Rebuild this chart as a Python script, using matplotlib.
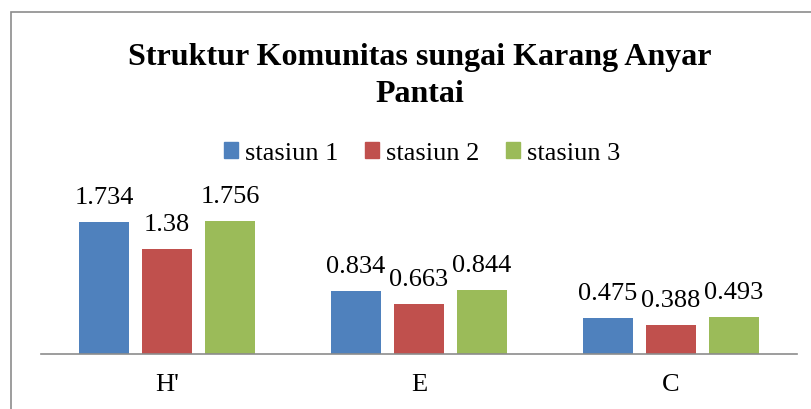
import matplotlib
matplotlib.use("Agg")
import matplotlib.pyplot as plt
import numpy as np
from matplotlib.patches import Rectangle

categories = ["H'", "E", "C"]
series_names = ["stasiun 1", "stasiun 2", "stasiun 3"]
stasiun1 = [1.734, 0.834, 0.475]
stasiun2 = [1.38, 0.663, 0.388]
stasiun3 = [1.756, 0.844, 0.493]
labels1 = ["1.734", "0.834", "0.475"]
labels2 = ["1.38", "0.663", "0.388"]
labels3 = ["1.756", "0.844", "0.493"]
colors = ["#4f81bd", "#c0504d", "#9bbb59"]

plt.rcParams["font.family"] = ["Liberation Serif", "DejaVu Serif"]

W, H = 811, 410
fig = plt.figure(figsize=(W / 100, H / 100), dpi=100)

# outer chart border (Excel style)
fig.add_artist(Rectangle((11 / W, -0.1), 2.0, (H - 13) / H + 0.1, transform=fig.transFigure,
                         fill=False, edgecolor="#8c8c8c", linewidth=1.2))

ax = fig.add_axes([41 / W, (H - 355) / H, 756 / W, 152 / H])
x = np.arange(len(categories))
width = 0.198
offs = [-0.25, 0.0, 0.25]
for vals, labs, c, off, name in zip([stasiun1, stasiun2, stasiun3],
                                    [labels1, labels2, labels3],
                                    colors, offs, series_names):
    bars = ax.bar(x + off, vals, width, color=c, label=name)
    for b, lab in zip(bars, labs):
        ax.annotate(lab, (b.get_x() + b.get_width() / 2, b.get_height()),
                    xytext=(0, 10), textcoords="offset points",
                    ha="center", va="bottom", fontsize=19)

ax.set_xlim(-0.5, 2.5)
ax.set_ylim(0, 2)
for s in ["top", "left", "right"]:
    ax.spines[s].set_visible(False)
ax.spines["bottom"].set_color("#8c8c8c")
ax.spines["bottom"].set_linewidth(1.2)
ax.set_yticks([])
ax.set_xticks(x)
ax.set_xticklabels(categories, fontsize=19)
ax.tick_params(axis="x", length=0, pad=14)

fig.text(420 / W, 1 - 76 / H, "Struktur Komunitas sungai Karang Anyar\nPantai",
         ha="center", va="center", fontsize=23, fontweight="bold", linespacing=1.38)

handles = [Rectangle((0, 0), 1, 1, color=c) for c in colors]
fig.legend(handles, series_names, loc="center", bbox_to_anchor=(422 / W, 1 - 154 / H),
           ncol=3, frameon=False, fontsize=19, handlelength=0.55, handleheight=0.55,
           handletextpad=0.25, columnspacing=1.0)

fig.savefig("out.png", dpi=100)
